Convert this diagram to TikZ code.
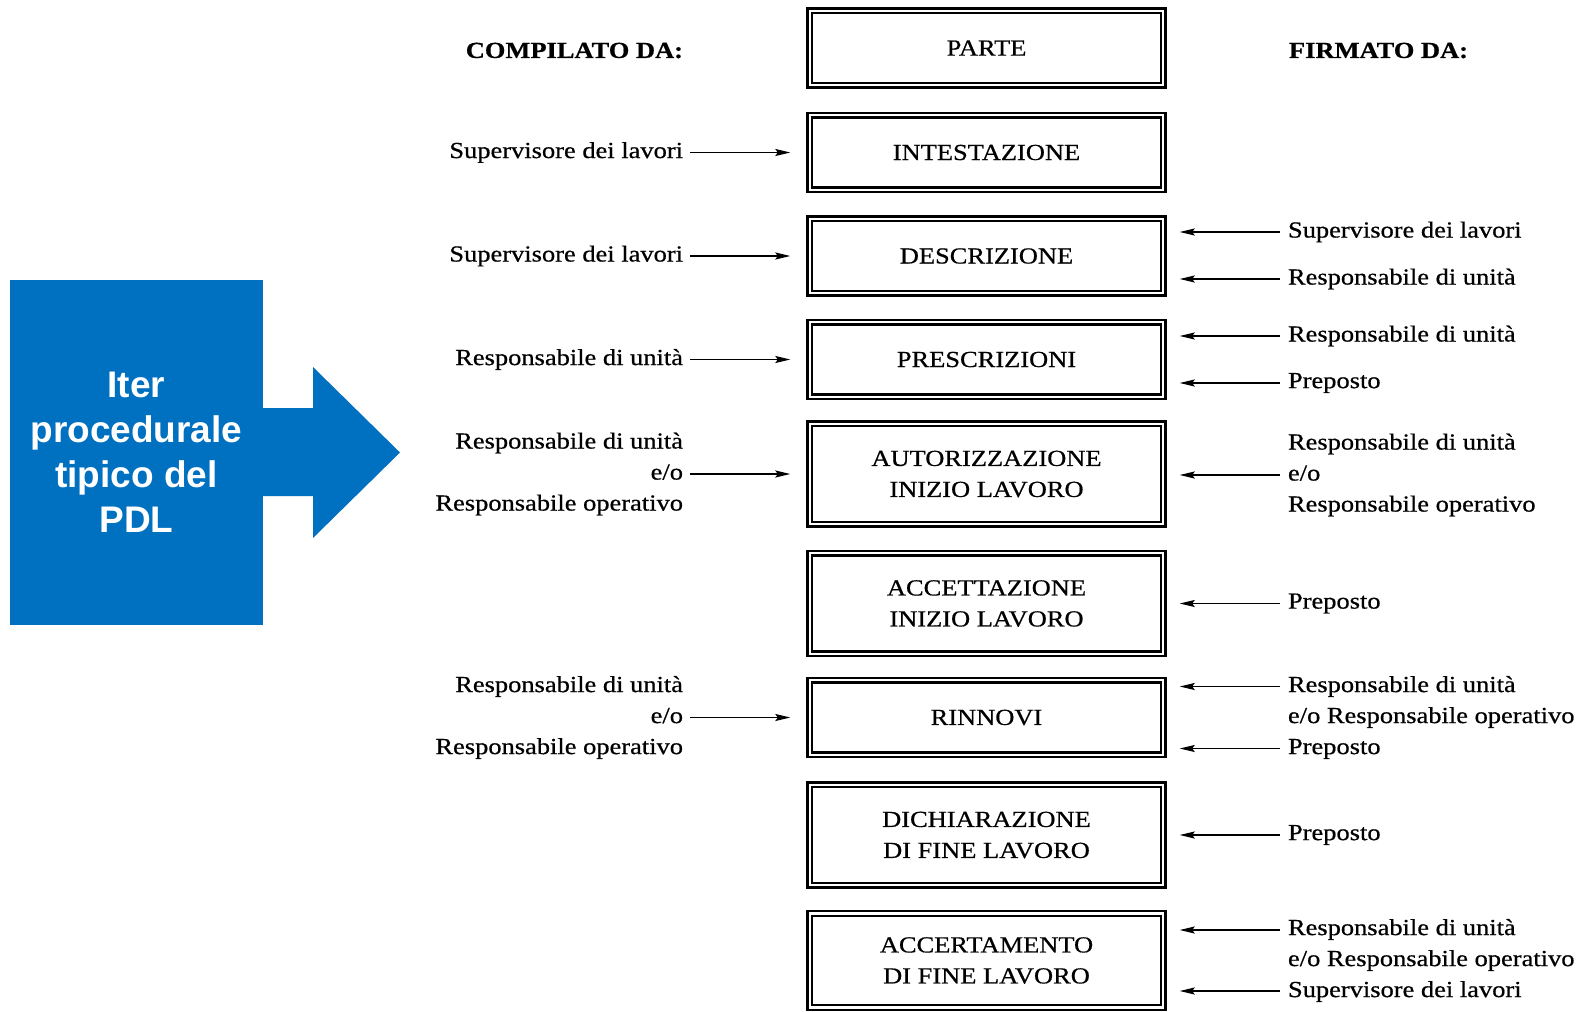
\documentclass[tikz,border=0pt]{standalone}
\usepackage{fontspec}
\setmainfont{Liberation Serif}[FakeStretch=1.15, FakeBold=0.6]
\newfontfamily\blocksans{Liberation Sans}
\usetikzlibrary{arrows.meta}
\definecolor{pdlblue}{HTML}{0070C0}
\newcommand\labfont{\fontsize{23}{31}\selectfont}
\newcommand\hdrfont{\fontsize{23}{31}\selectfont\bfseries}
\newcommand\blockfont{\blocksans\bfseries\fontsize{37}{45}\selectfont}
\begin{document}
\begin{tikzpicture}[x=1pt,y=-1pt,
  box/.style={draw, line width=2.5pt, double distance=2.2pt, minimum width=353.6pt,
    minimum height=74.6pt, inner sep=0pt, outer sep=0pt, align=center, font=\labfont},
  box2/.style={box, minimum height=100.6pt},
  lab/.style={inner sep=0pt, outer sep=0pt, font=\labfont},
  labl/.style={lab, anchor=east, align=right},
  labr/.style={lab, anchor=west, align=left},
  arr/.style={-{Stealth[length=15pt,width=7pt,inset=2.5pt]}, line width=1.5pt},
  arrl/.style={arr, shorten >=19.4pt},
  arrr/.style={arr, shorten >=16.4pt}]
\useasboundingbox (0,0) rectangle (1585,1012);
\fill[white] (0,0) rectangle (1585,1012);

% blue block
\fill[pdlblue] (10,280) rectangle (263,625);
\fill[pdlblue] (262,408) -- (313,408) -- (313,367) -- (400,452.5) -- (313,538) -- (313,496) -- (262,496) -- cycle;
\node[inner sep=0pt, text=white, align=center, font=\blockfont] (iter) at (136.5,452.5) {Iter\\procedurale\\tipico del\\PDL};

% headers
\node[lab, font=\hdrfont, anchor=east] (hl) at (683,50.5) {COMPILATO DA:};
\node[lab, font=\hdrfont, anchor=west] (hr) at (1289,50.5) {FIRMATO DA:};

% boxes
\node[box] (B1) at (986.5,48) {PARTE};
\node[box] (B2) at (986.5,152.5) {INTESTAZIONE};
\node[box] (B3) at (986.5,256) {DESCRIZIONE};
\node[box] (B4) at (986.5,359.5) {PRESCRIZIONI};
\node[box2] (B5) at (986.5,474) {AUTORIZZAZIONE\\INIZIO LAVORO};
\node[box2] (B6) at (986.5,603.5) {ACCETTAZIONE\\INIZIO LAVORO};
\node[box] (B7) at (986.5,717.5) {RINNOVI};
\node[box2] (B8) at (986.5,835) {DICHIARAZIONE\\DI FINE LAVORO};
\node[box, minimum height=94pt] (B9) at (986.5,960.5) {ACCERTAMENTO\\DI FINE LAVORO};

% left labels
\node[labl] (L1) at (683,152.5) {Supervisore dei lavori};
\node[labl] (L2) at (683,256) {Supervisore dei lavori};
\node[labl] (L3) at (683,359.5) {Responsabile di unità};
\node[labl] (L4) at (683,474) {Responsabile di unità\\e/o\\Responsabile operativo};
\node[labl] (L5) at (683,717.5) {Responsabile di unità\\e/o\\Responsabile operativo};

\draw[arrl] ([xshift=7pt]L1.east) -- (L1.east -| B2.west);
\draw[arrl] ([xshift=7pt]L2.east) -- (L2.east -| B3.west);
\draw[arrl] ([xshift=7pt]L3.east) -- (L3.east -| B4.west);
\draw[arrl] ([xshift=7pt]L4.east) -- (L4.east -| B5.west);
\draw[arrl] ([xshift=7pt]L5.east) -- (L5.east -| B7.west);

% right labels
\node[labr] (R1) at (1288,232) {Supervisore dei lavori};
\node[labr] (R2) at (1288,279) {Responsabile di unità};
\node[labr] (R3) at (1288,336) {Responsabile di unità};
\node[labr] (R4) at (1288,383) {Preposto};
\node[labr] (R5) at (1288,475) {Responsabile di unità\\e/o\\Responsabile operativo};
\node[labr] (R6) at (1288,603.5) {Preposto};
\node[labr] (R7) at (1288,717.5) {Responsabile di unità\\e/o Responsabile operativo\\Preposto};
\node[labr] (R8) at (1288,835) {Preposto};
\node[labr] (R9) at (1288,960.5) {Responsabile di unità\\e/o Responsabile operativo\\Supervisore dei lavori};

\coordinate (r7a) at ([yshift=31pt]R7.west);
\coordinate (r7b) at ([yshift=-31pt]R7.west);
\coordinate (r9a) at ([yshift=30.5pt]R9.west);
\coordinate (r9b) at ([yshift=-30.5pt]R9.west);

\draw[arrr] ([xshift=-8pt]R1.west) -- (R1.west -| B3.east);
\draw[arrr] ([xshift=-8pt]R2.west) -- (R2.west -| B3.east);
\draw[arrr] ([xshift=-8pt]R3.west) -- (R3.west -| B4.east);
\draw[arrr] ([xshift=-8pt]R4.west) -- (R4.west -| B4.east);
\draw[arrr] ([xshift=-8pt]R5.west) -- (R5.west -| B5.east);
\draw[arrr] ([xshift=-8pt]R6.west) -- (R6.west -| B6.east);
\draw[arrr] ([xshift=-8pt]r7a) -- (r7a -| B7.east);
\draw[arrr] ([xshift=-8pt]r7b) -- (r7b -| B7.east);
\draw[arrr] ([xshift=-8pt]R8.west) -- (R8.west -| B8.east);
\draw[arrr] ([xshift=-8pt]r9a) -- (r9a -| B9.east);
\draw[arrr] ([xshift=-8pt]r9b) -- (r9b -| B9.east);
\end{tikzpicture}
\end{document}
